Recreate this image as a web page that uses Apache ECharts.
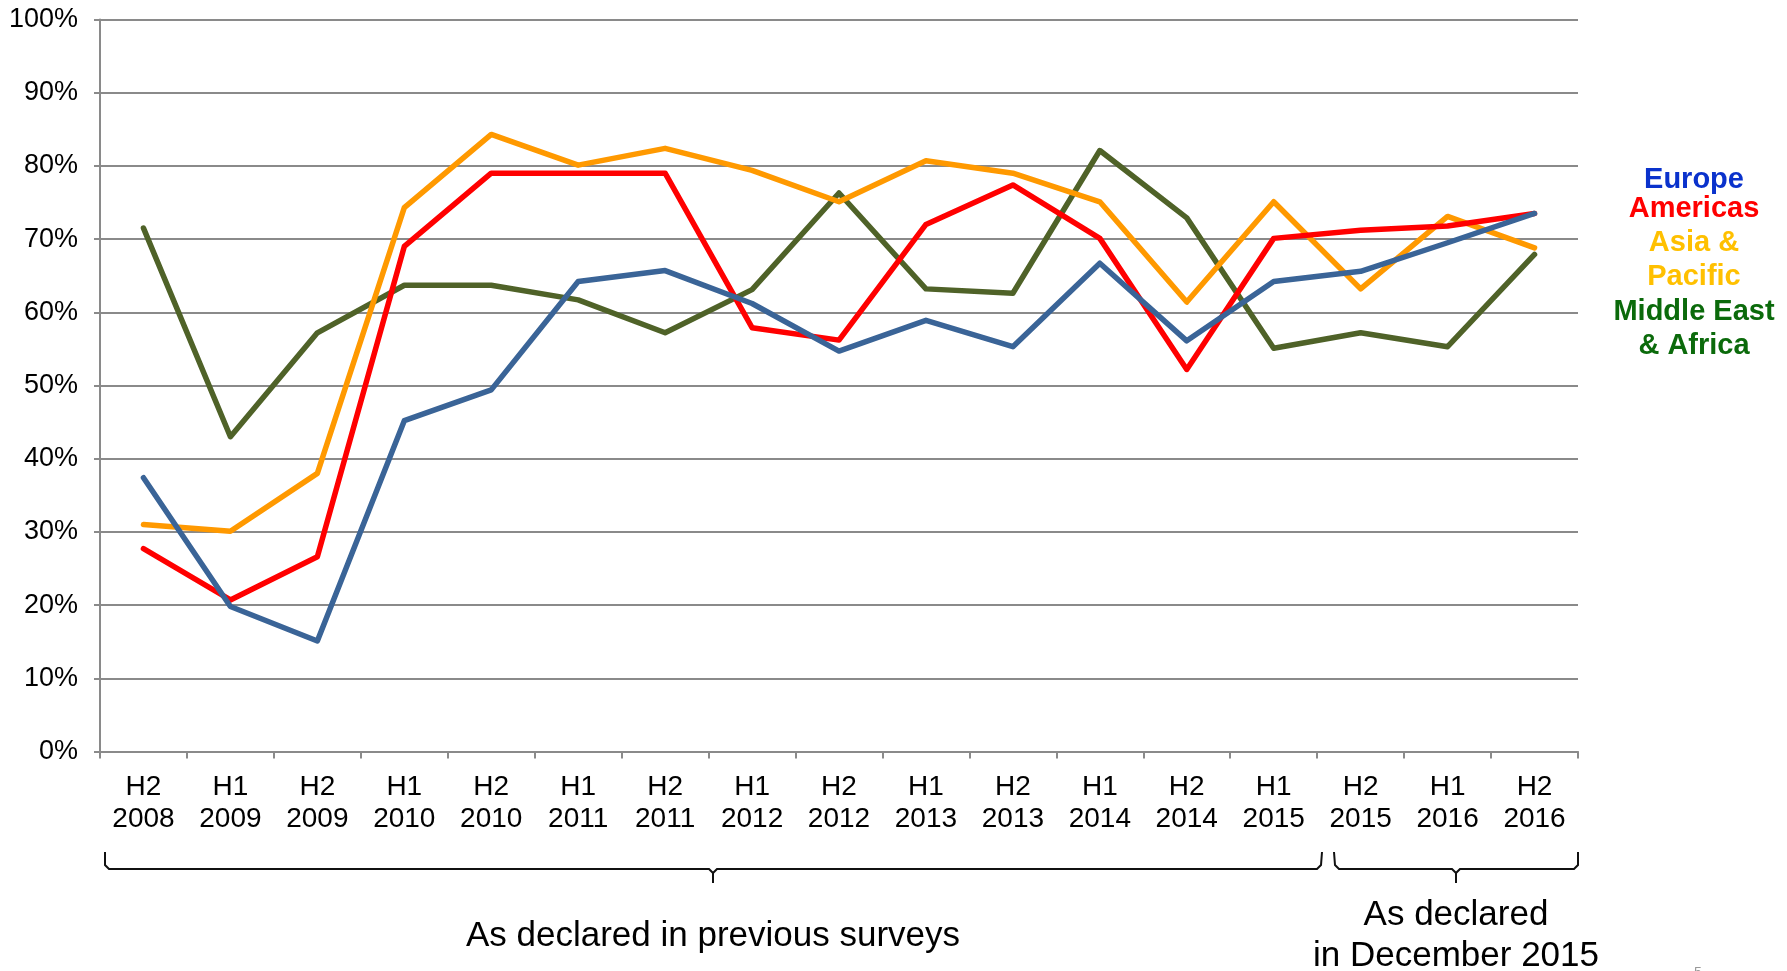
<!DOCTYPE html>
<html>
<head>
<meta charset="utf-8">
<script src="https://cdn.jsdelivr.net/npm/echarts@6/dist/echarts.min.js"></script>
<style>
html,body{margin:0;padding:0;background:#fff;}
#chart{width:1787px;height:971px;}
</style>
</head>
<body>
<div id="chart"></div>
<script>
const categories = ['H2\n2008','H1\n2009','H2\n2009','H1\n2010','H2\n2010','H1\n2011','H2\n2011','H1\n2012','H2\n2012','H1\n2013','H2\n2013','H1\n2014','H2\n2014','H1\n2015','H2\n2015','H1\n2016','H2\n2016'];
const europe     = [37.4,19.8,15.1,45.2,49.4,64.2,65.7,61.2,54.7,58.9,55.3,66.7,56.1,64.2,65.6,69.5,73.5];
const americas   = [27.7,20.7,26.6,69.0,79.0,79.0,79.0,57.9,56.2,72.0,77.4,70.1,52.2,70.1,71.2,71.8,73.5];
const asiaPacific= [31.0,30.1,38.0,74.3,84.3,80.1,82.4,79.4,75.1,80.7,79.0,75.1,61.4,75.1,63.2,73.1,68.8];
const middleEast = [71.5,43.0,57.2,63.7,63.7,61.7,57.2,63.1,76.3,63.2,62.6,82.1,72.9,55.1,57.2,55.3,67.9];
const yTicks = [0,10,20,30,40,50,60,70,80,90,100];

const chart = echarts.init(document.getElementById('chart'));
const FONT = 'Liberation Sans, Arial, sans-serif';
function line(name, data, color){
  return {name:name,type:'line',data:data,symbol:'none',smooth:false,
    lineStyle:{color:color,width:5.5,cap:'round',join:'round'},z:3};
}
const braceStyle = {stroke:'#111',lineWidth:2,fill:null};
const LEG = 'bold 29px '+FONT;
chart.setOption({
  animation:false,
  backgroundColor:'#fff',
  grid:{left:100,right:209,top:19.5,bottom:219.5,containLabel:false},
  xAxis:{type:'category',data:categories,boundaryGap:true,
    axisLine:{show:true,lineStyle:{color:'#8a8a8a',width:2}},
    axisTick:{show:true,alignWithLabel:false,length:7,lineStyle:{color:'#8a8a8a',width:2}},
    axisLabel:{interval:0,color:'#000',fontFamily:FONT,fontSize:28,lineHeight:32,margin:20},
    splitLine:{show:false}},
  yAxis:{type:'value',min:yTicks[0],max:yTicks[yTicks.length-1],interval:10,
    axisLine:{show:true,lineStyle:{color:'#8a8a8a',width:2}},
    axisTick:{show:true,length:6,lineStyle:{color:'#8a8a8a',width:2}},
    axisLabel:{formatter:'{value}%',color:'#000',fontFamily:FONT,fontSize:27,margin:22},
    splitLine:{show:true,lineStyle:{color:'#8a8a8a',width:2}}},
  series:[
    line('Middle East & Africa', middleEast, '#4f6228'),
    line('Asia & Pacific', asiaPacific, '#ff9900'),
    line('Americas', americas, '#ff0000'),
    line('Europe', europe, '#3a6497')
  ],
  graphic:[
    {type:'text',x:1694,y:180,style:{text:'Europe',fill:'#0a32cc',font:LEG,textAlign:'center',textVerticalAlign:'middle'}},
    {type:'text',x:1694,y:209,style:{text:'Americas',fill:'#ff0000',font:LEG,textAlign:'center',textVerticalAlign:'middle'}},
    {type:'text',x:1694,y:243,style:{text:'Asia &',fill:'#ffc000',font:LEG,textAlign:'center',textVerticalAlign:'middle'}},
    {type:'text',x:1694,y:277,style:{text:'Pacific',fill:'#ffc000',font:LEG,textAlign:'center',textVerticalAlign:'middle'}},
    {type:'text',x:1694,y:312,style:{text:'Middle East',fill:'#0b6a0b',font:LEG,textAlign:'center',textVerticalAlign:'middle'}},
    {type:'text',x:1694,y:346,style:{text:'& Africa',fill:'#0b6a0b',font:LEG,textAlign:'center',textVerticalAlign:'middle'}},
    {type:'polyline',shape:{points:[[105,852],[105,865],[109,869],[709,869],[713,873],[713,883],[713,873],[717,869],[1317,869],[1321,865],[1322,852]]},style:braceStyle},
    {type:'polyline',shape:{points:[[1334,852],[1335,865],[1339,869],[1452,869],[1456,873],[1456,883],[1456,873],[1460,869],[1574,869],[1578,865],[1578,852]]},style:braceStyle},
    {type:'text',x:713,y:936,style:{text:'As declared in previous surveys',fill:'#000',font:'35px '+FONT,textAlign:'center',textVerticalAlign:'middle'}},
    {type:'text',x:1456,y:915,style:{text:'As declared',fill:'#000',font:'35px '+FONT,textAlign:'center',textVerticalAlign:'middle'}},
    {type:'text',x:1456,y:956,style:{text:'in December 2015',fill:'#000',font:'35px '+FONT,textAlign:'center',textVerticalAlign:'middle'}},
    {type:'text',x:1698,y:966,style:{text:'5',fill:'#999',font:'14px '+FONT,textAlign:'center',textVerticalAlign:'top'}}
  ]
});
</script>
</body>
</html>
